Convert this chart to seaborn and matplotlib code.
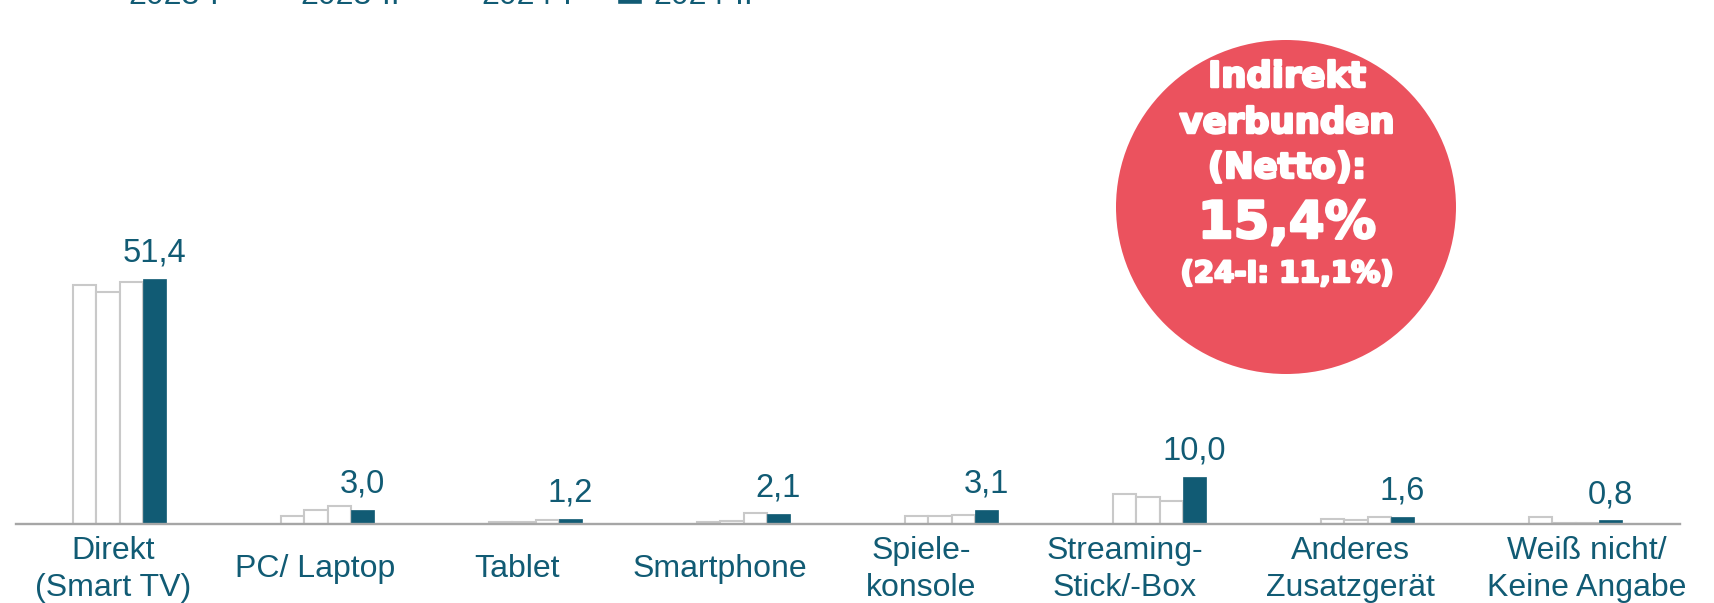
import pandas as pd
import matplotlib
matplotlib.use('Agg')
import matplotlib.pyplot as plt
import matplotlib.patches as mpatches
import matplotlib.patheffects as pe
import seaborn as sns

# Daten
categories = ['Direkt\n(Smart TV)', 'PC/ Laptop', 'Tablet', 'Smartphone',
              'Spiele-\nkonsole', 'Streaming-\nStick/-Box', 'Anderes\nZusatzgerät',
              'Weiß nicht/\nKeine Angabe']
waves = ['2023-I', '2023-II', '2024-I', '2024-II']
w23_1 = [50.2, 1.7, 0.4, 0.5, 1.7, 6.3, 1.1, 1.5]
w23_2 = [48.7, 3.0, 0.5, 0.7, 1.7, 5.7, 0.8, 0.25]
w24_1 = [50.8, 3.8, 1.0, 2.3, 1.9, 4.9, 1.45, 0.25]
w24_2 = [51.4, 3.0, 1.2, 2.1, 3.1, 10.0, 1.6, 0.8]

circle_lines = ['Indirekt', 'verbunden', '(Netto):', '15,4%', '(24-I: 11,1%)']

teal = '#115b74'
red = '#eb525e'
grey_edge = '#c9c9c9'

df = pd.DataFrame({'Kategorie': categories * 4,
                   'Welle': [w for w in waves for _ in categories],
                   'Wert': w23_1 + w23_2 + w24_1 + w24_2})

sns.set_style('white')
plt.rcParams['font.family'] = ['Liberation Sans', 'DejaVu Sans']

W, H = 1714, 603
fig = plt.figure(figsize=(W / 100, H / 100), dpi=100)
ax = fig.add_axes([15.5 / W, 1 - 524.3 / H, 1664 / W, 476.7 / H])

sns.barplot(data=df, x='Kategorie', y='Wert', hue='Welle', hue_order=waves,
            palette=['white', 'white', 'white', teal], saturation=1,
            width=0.445, ax=ax)

for i, cont in enumerate(ax.containers):
    for bar in cont:
        if i < 3:
            bar.set_edgecolor(grey_edge)
            bar.set_linewidth(1.5)
        else:
            bar.set_edgecolor(teal)
            bar.set_linewidth(0.5)

# Werte nur für die aktuelle Welle
last = ax.containers[3]
ax.bar_label(last, labels=[f'{v:.1f}'.replace('.', ',') for v in w24_2],
             padding=7.5, fontsize=23.5, color=teal)

ax.set_xlim(-0.5, 7.5)
ax.set_ylim(0, 100)
ax.set_xlabel('')
ax.set_ylabel('')
ax.set_yticks([])
for s in ['top', 'left', 'right']:
    ax.spines[s].set_visible(False)
ax.spines['bottom'].set_color('#a6a6a6')
ax.spines['bottom'].set_linewidth(1.7)

# Beschriftungen sitzen im Original etwas links der Balkengruppen
label_px = [113, 315, 517, 720, 921, 1125, 1350, 1587]
ax.set_xticks([(p - 119.5) / 208 for p in label_px], categories)
ax.tick_params(axis='x', length=0, pad=32.5, labelsize=23, labelcolor=teal)
for lab in ax.get_xticklabels():
    lab.set_verticalalignment('center')
    lab.set_linespacing(1.3)

# Legende (oben angeschnitten wie im Original)
handles, labels = ax.get_legend_handles_labels()
ax.get_legend().remove()
fig.legend(handles, labels, ncol=4, frameon=False, loc='lower left',
           bbox_to_anchor=(92 / W, 1 - 11 / H), borderpad=0, borderaxespad=0,
           handlelength=0.8, handletextpad=0.34, columnspacing=1.4,
           prop={'size': 23}, labelcolor=teal)

# Roter Kreis
fig.patches.append(mpatches.Ellipse((1286 / W, 1 - 207 / H), 340 / W, 334 / H,
                                    transform=fig.transFigure, facecolor=red,
                                    edgecolor='none', zorder=5))
baselines = [87, 133, 178, 238, 282]
sizes = [25.5, 25.5, 25.5, 37, 21]
for txt, yb, fs in zip(circle_lines, baselines, sizes):
    fig.text(1287 / W, 1 - yb / H, txt, ha='center', va='baseline', color='white',
             fontsize=fs, fontweight='bold', family='DejaVu Sans', zorder=6,
             path_effects=[pe.withStroke(linewidth=1.8, foreground='white')])

fig.savefig('out.png', dpi=100)
